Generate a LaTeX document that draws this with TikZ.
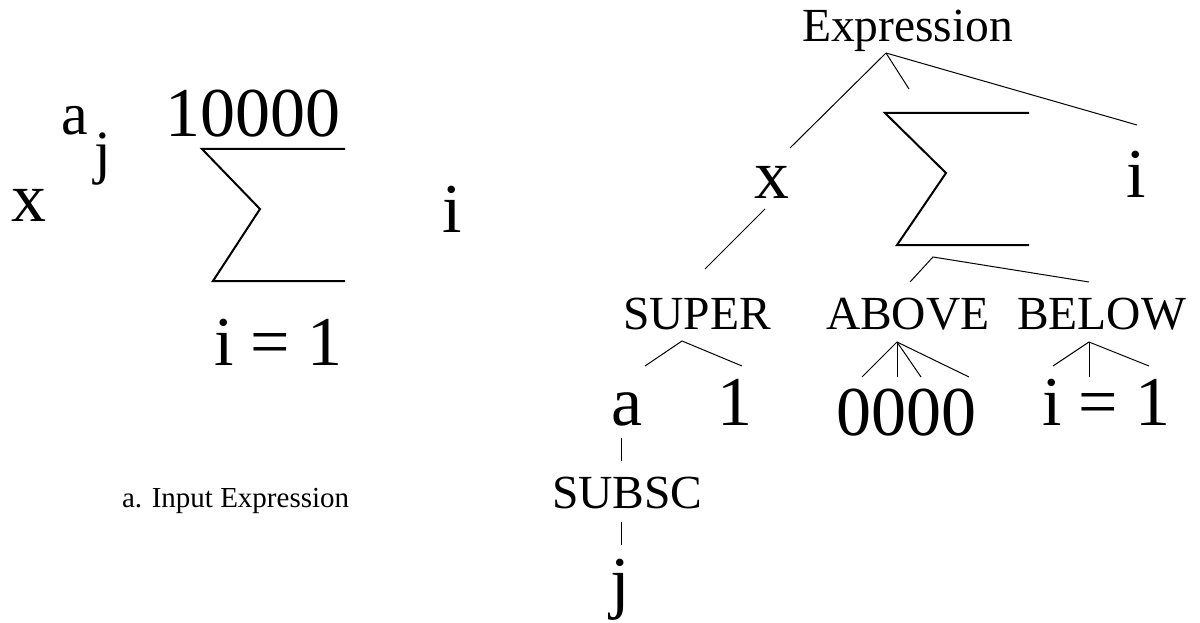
\documentclass[tikz,border=0pt]{standalone}
\usepackage{fontspec}
\setmainfont{Liberation Serif}
\begin{document}
\begin{tikzpicture}[x=1pt,y=-1pt,
  txt/.style={inner sep=0pt, outer sep=0pt, anchor=base west},
  big/.style={txt, font=\fontsize{70}{70}\selectfont},
  mid/.style={txt, font=\fontsize{47.5}{47.5}\selectfont},
  supsz/.style={txt, font=\fontsize{60}{60}\selectfont},
  captext/.style={txt, font=\fontsize{29}{29}\selectfont},
  conn/.style={line width=1pt},
  sig/.style={line width=2pt, line join=miter}]
\useasboundingbox (0,0) rectangle (1200,623);
% ---------- left: input expression ----------
\node[big]   (lx)   at (12,222)  {x};
\node[supsz] (la)   at (61,135)  {a};
\node[supsz] (lj)   at (94,172)  {j};
\node[big]   (ltop) at (165,137) {10000};
\draw[sig] (345,149) -- (202,149) -- (260,209) -- (213,281) -- (345,281);
\node[big]   (lbot) at (214,365) {i = 1};
\node[big]   (li)   at (442,232) {i};
\node[captext] (lcap) at (122,507) {a. Input Expression};
% ---------- right: tree ----------
\node[mid] (expr)  at (802,42)  {Expression};
\node[big] (tx)    at (754,198) {x};
\draw[sig] (1029,113) -- (885,113) -- (946,173) -- (897,245) -- (1029,245);
\node[big] (ti)    at (1126,197) {i};
\node[mid] (super) at (623,329) {SUPER};
\node[mid] (above) at (826,329) {ABOVE};
\node[mid] (below) at (1017,329) {BELOW};
\node[big] (ta)    at (611,425) {a};
\node[big] (tone)  at (717,425) {1};
\node[big] (zeros) at (836,435) {0000};
\node[big] (ieq)   at (1042,425) {i = 1};
\node[mid] (subsc) at (552,508) {SUBSC};
\node[big] (tj)    at (610,605) {j};
% connector end points
\coordinate (eR)  at (886,53);
\coordinate (eX)  at (790,148);
\coordinate (eS)  at (909,89);
\coordinate (eI)  at (1137,125);
\coordinate (xB)  at (765,209);
\coordinate (supT) at (705,269);
\coordinate (sgA) at (933,257);
\coordinate (abT) at (910,282);
\coordinate (beT) at (1089,282);
\coordinate (suA) at (682,341);
\coordinate (suL) at (645,366);
\coordinate (suR) at (742,366);
\coordinate (abA) at (897,342);
\coordinate (ab1) at (862,377);
\coordinate (ab2) at (897,377);
\coordinate (ab3) at (921,377);
\coordinate (ab4) at (969,377);
\coordinate (blA) at (1089,342);
\coordinate (bl1) at (1053,366);
\coordinate (bl2) at (1089,377);
\coordinate (bl3) at (1149,366);
\coordinate (aB)  at (621,438);
\coordinate (sbT) at (621,461);
\coordinate (sbB) at (621,522);
\coordinate (jT)  at (621,545);
\draw[conn] (eR) -- (eX);
\draw[conn] (eR) -- (eS);
\draw[conn] (eR) -- (eI);
\draw[conn] (xB) -- (supT);
\draw[conn] (abT) -- (sgA) -- (beT);
\draw[conn] (suL) -- (suA) -- (suR);
\draw[conn] (abA) -- (ab1);
\draw[conn] (abA) -- (ab2);
\draw[conn] (abA) -- (ab3);
\draw[conn] (abA) -- (ab4);
\draw[conn] (blA) -- (bl1);
\draw[conn] (blA) -- (bl2);
\draw[conn] (blA) -- (bl3);
\draw[conn] (aB) -- (sbT);
\draw[conn] (sbB) -- (jT);
\end{tikzpicture}
\end{document}
